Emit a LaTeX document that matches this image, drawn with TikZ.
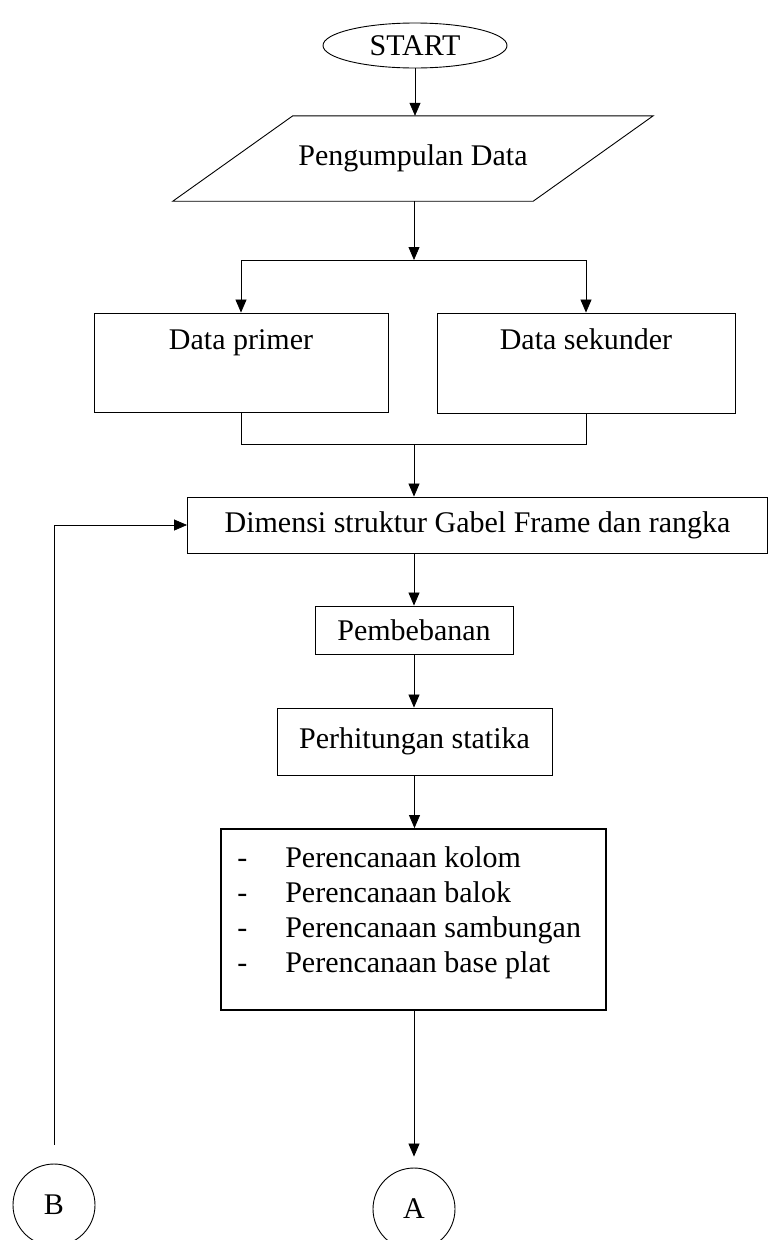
\documentclass[tikz,border=0pt]{standalone}
\usepackage{fontspec}
\setmainfont{Liberation Serif}
\usetikzlibrary{arrows.meta,shapes.geometric,calc}
\begin{document}
\begin{tikzpicture}[x=1pt,y=-1pt,
  font=\fontsize{30}{35}\selectfont,
  box/.style={draw,line width=0.9pt,inner sep=0pt,rectangle},
  conn/.style={line width=0.75pt},
  arr/.style={conn,-{Triangle[width=11pt,length=13pt]}}]
\useasboundingbox (0,0) rectangle (769,1240);
\clip (0,0) rectangle (769,1240);
% nodes
\node[draw,ellipse,line width=0.9pt,minimum width=184pt,minimum height=45pt,inner sep=0pt] (start) at (415,45.5) {START};
\node[inner sep=0pt,minimum width=480pt,minimum height=85pt] (pd) at (413,158.5) {Pengumpulan Data};
\draw[line width=0.9pt] ([xshift=120pt]pd.north west) -- (pd.north east) -- ([xshift=-120pt]pd.south east) -- (pd.south west) -- cycle;
\node[box,minimum width=294pt,minimum height=99pt,label={[anchor=base,yshift=-37pt]north:Data primer}] (primer) at (241,362.5) {};
\node[box,minimum width=298pt,minimum height=100pt,label={[anchor=base,yshift=-37pt]north:Data sekunder}] (sekunder) at (586,363) {};
\node[box,minimum width=580pt,minimum height=56pt] (dim) at (477.5,525) {Dimensi struktur Gabel Frame dan rangka};
\node[box,minimum width=198pt,minimum height=48pt] (pemb) at (414,630) {Pembebanan};
\node[box,minimum width=275pt,minimum height=67pt] (perh) at (414.5,741.5) {Perhitungan statika};
\node[box,line width=1.8pt,minimum width=385pt,minimum height=181pt,
  label={[anchor=north west,inner sep=0pt,align=left,xshift=17pt,yshift=-14.5pt]north west:{\strut\makebox[48pt][l]{-}Perencanaan kolom\\\makebox[48pt][l]{-}Perencanaan balok\\\makebox[48pt][l]{-}Perencanaan sambungan\\\makebox[48pt][l]{-}Perencanaan base plat}}] (plan) at (413.5,919.5) {};
\node[draw,circle,line width=0.9pt,minimum size=82pt,inner sep=0pt] (A) at (414,1209) {A};
\node[draw,circle,line width=0.9pt,minimum size=82pt,inner sep=0pt] (B) at (54,1205) {B};
% connectors
\coordinate (split) at (414,260);
\coordinate (sl) at (241,260);
\coordinate (sr) at (586,260);
\coordinate (merge) at (414,444);
\draw[arr] (start.south) -- (start.south |- pd.north);
\draw[arr] (split |- pd.south) -- (split);
\draw[conn] (sl) -- (sr);
\draw[arr] (sl) -- (primer.north);
\draw[arr] (sr) -- (sekunder.north);
\draw[conn] (primer.south) -- (primer.south |- merge) -- (sekunder.south |- merge) -- (sekunder.south);
\draw[arr] (merge) -- (merge |- dim.north);
\draw[arr] (pemb.north |- dim.south) -- (pemb.north);
\draw[arr] (pemb.south) -- (pemb.south |- perh.north);
\draw[arr] (perh.south) -- (perh.south |- plan.north);
\draw[arr,shorten >=11pt] (A.north |- plan.south) -- (A.north);
\draw[arr] ([yshift=19pt]B.north) -- (B.north |- dim.west) -- (dim.west);
\end{tikzpicture}
\end{document}
